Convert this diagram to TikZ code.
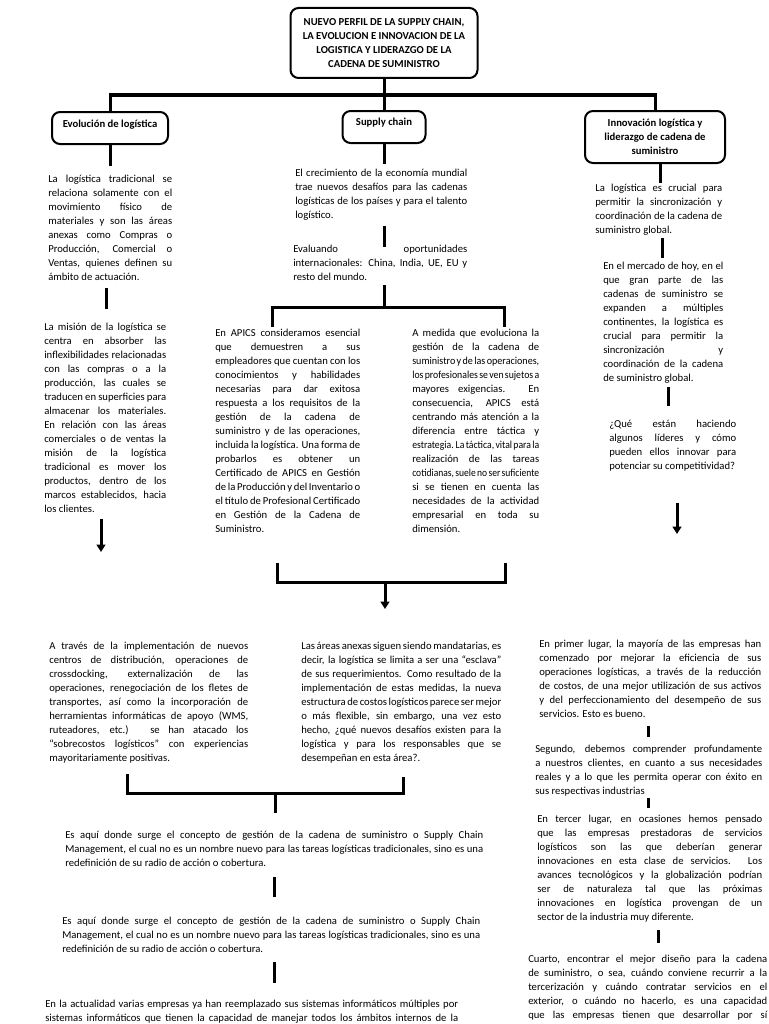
\documentclass[tikz,border=0pt]{standalone}
\usepackage{fontspec}
\usepackage{graphicx}
\setmainfont{Carlito}
\usetikzlibrary{arrows.meta}
\newdimen\pxu \pxu=0.75pt
\newdimen\colw
\newsavebox\lbox
% justified line: spaces may shrink; if still too long, the line is scaled down a little
\newcommand\jl[1]{\sbox\lbox{\spaceskip=.6\fontdimen2\font\relax #1}\ifdim\wd\lbox>\colw
  \hbox{\resizebox{\colw}{\height}{\usebox\lbox}}\else
  \hbox to\colw{\spaceskip=\fontdimen2\font plus 2\fontdimen3\font minus .4\fontdimen2\font\relax #1}\fi}
\newcommand\lastl[1]{\hbox{#1}}
\newcommand\tblock[2]{\colw=#1\pxu\vtop{#2}}
\begin{document}
\begin{tikzpicture}[x=0.75pt,y=-0.75pt,
  conn/.style={line width=2.25pt},
  arr/.style={line width=2.25pt,-{Triangle[width=6.5pt,length=5.5pt]}},
  tbox/.style={draw,line width=1.5pt,rounded corners=6pt,font=\fontsize{8}{10.5}\selectfont\bfseries,align=center,inner sep=0pt},
  para/.style={inner sep=0pt,anchor=north west,font=\fontsize{8}{10.5}\selectfont},
]
\fill[white] (0,0) rectangle (768,1024);
\useasboundingbox (0,0) rectangle (768,1024);

% ---------- top level ----------
\node[tbox, minimum width=187\pxu, minimum height=70\pxu] (title) at (384,43)
  {NUEVO PERFIL DE LA SUPPLY CHAIN,\\ LA EVOLUCION E INNOVACION DE LA\\ LOGISTICA Y LIDERAZGO DE LA\\ CADENA DE SUMINISTRO};
\node[tbox, minimum width=116\pxu, text height=11.6pt, text depth=12.4pt] (evo) at (110,128) {Evolución de logística};
\node[tbox, minimum width=83\pxu, text height=10.9pt, text depth=13.1pt] (sc) at (384,127) {Supply chain};
\node[tbox, minimum width=140\pxu, minimum height=52\pxu] (inn) at (655,137)
  {Innovación logística y\\ liderazgo de cadena de\\ suministro};

\coordinate (hubL) at (110,95);
\coordinate (hubR) at (655,95);
\draw[conn] (evo.north) -- (hubL) -- (hubR) -- (inn.north);
\draw[conn] (title.south) -- (sc.north);

% ---------- left column ----------
\node[para] (t1) at (48,175) {\tblock{124}{%
\jl{La logística tradicional se}
\jl{relaciona solamente con el}
\jl{movimiento físico de}
\jl{materiales y son las áreas}
\jl{anexas como Compras o}
\jl{Producción, Comercial o}
\jl{Ventas, quienes definen su}
\lastl{ámbito de actuación.}}};
\node[para] (t2) at (44,323) {\tblock{122}{%
\jl{La misión de la logística se}
\jl{centra en absorber las}
\jl{inflexibilidades relacionadas}
\jl{con las compras o a la}
\jl{producción, las cuales se}
\jl{traducen en superficies para}
\jl{almacenar los materiales.}
\jl{En relación con las áreas}
\jl{comerciales o de ventas la}
\jl{misión de la logística}
\jl{tradicional es mover los}
\jl{productos, dentro de los}
\jl{marcos establecidos, hacia}
\lastl{los clientes.}}};

\coordinate (l1) at (110,166);
\draw[conn] (evo.south) -- (l1);
\coordinate (l2a) at (106,288); \coordinate (l2b) at (106,309);
\draw[conn] (l2a) -- (l2b);
\coordinate (l3a) at (101,519); \coordinate (l3b) at (101,552);
\draw[arr] (l3a) -- (l3b);

% ---------- centre column ----------
\node[para] (c1) at (295,169) {\tblock{172}{%
\jl{El crecimiento de la economía mundial}
\jl{trae nuevos desafíos para las cadenas}
\jl{logísticas de los países y para el talento}
\lastl{logístico.}}};
\node[para] (c2) at (293,245) {\tblock{174}{%
\jl{Evaluando oportunidades}
\jl{internacionales: China, India, UE, EU y}
\lastl{resto del mundo.}}};
\node[para] (ap) at (215,329) {\tblock{145}{%
\jl{En APICS consideramos esencial}
\jl{que demuestren a sus}
\jl{empleadores que cuentan con los}
\jl{conocimientos y habilidades}
\jl{necesarias para dar exitosa}
\jl{respuesta a los requisitos de la}
\jl{gestión de la cadena de}
\jl{suministro y de las operaciones,}
\jl{incluida la logística. Una forma de}
\jl{probarlos es obtener un}
\jl{Certificado de APICS en Gestión}
\jl{de la Producción y del Inventario o}
\jl{el título de Profesional Certificado}
\jl{en Gestión de la Cadena de}
\lastl{Suministro.}}};
\node[para] (am) at (412,329) {\tblock{127}{%
\jl{A medida que evoluciona la}
\jl{gestión de la cadena de}
\jl{suministro y de las operaciones,}
\jl{los profesionales se ven sujetos a}
\jl{mayores exigencias. En}
\jl{consecuencia, APICS está}
\jl{centrando más atención a la}
\jl{diferencia entre táctica y}
\jl{estrategia. La táctica, vital para la}
\jl{realización de las tareas}
\jl{cotidianas, suele no ser suficiente}
\jl{si se tienen en cuenta las}
\jl{necesidades de la actividad}
\jl{empresarial en toda su}
\lastl{dimensión.}}};

\coordinate (s1) at (384,164);
\draw[conn] (sc.south) -- (s1);
\coordinate (s2a) at (384,226); \coordinate (s2b) at (384,247);
\draw[conn] (s2a) -- (s2b);
\coordinate (s3a) at (384,285); \coordinate (s3b) at (384,307);
\draw[conn] (s3a) -- (s3b);
\coordinate (s4a) at (272,327); \coordinate (s4b) at (504,327);
\draw[conn] (s4a) -- (272,307) -- (504,307) -- (s4b);
\coordinate (s5a) at (277,563); \coordinate (s5b) at (505,563);
\draw[conn] (s5a) -- (277,582) -- (505,582) -- (s5b);
\coordinate (s6a) at (385,582); \coordinate (s6b) at (385,609);
\draw[arr] (s6a) -- (s6b);

% ---------- right column ----------
\node[para] (i1) at (595,184) {\tblock{127}{%
\jl{La logística es crucial para}
\jl{permitir la sincronización y}
\jl{coordinación de la cadena de}
\lastl{suministro global.}}};
\node[para] (i2) at (603,262) {\tblock{120}{%
\jl{En el mercado de hoy, en el}
\jl{que gran parte de las}
\jl{cadenas de suministro se}
\jl{expanden a múltiples}
\jl{continentes, la logística es}
\jl{crucial para permitir la}
\jl{sincronización y}
\jl{coordinación de la cadena}
\lastl{de suministro global.}}};
\node[para] (i3) at (609,420) {\tblock{127}{%
\jl{¿Qué están haciendo}
\jl{algunos líderes y cómo}
\jl{pueden ellos innovar para}
\lastl{potenciar su competitividad?}}};

\coordinate (r1) at (660,183);
\draw[conn] (inn.south -| r1) -- (r1);
\coordinate (r2a) at (662,238); \coordinate (r2b) at (662,258);
\draw[conn] (r2a) -- (r2b);
\coordinate (r3a) at (668,387); \coordinate (r3b) at (668,406);
\draw[conn] (r3a) -- (r3b);
\coordinate (r4a) at (677,503); \coordinate (r4b) at (677,534);
\draw[arr] (r4a) -- (r4b);

% ---------- lower part ----------
\node[para] (b1) at (49,642) {\tblock{199}{%
\jl{A través de la implementación de nuevos}
\jl{centros de distribución, operaciones de}
\jl{crossdocking, externalización de las}
\jl{operaciones, renegociación de los fletes de}
\jl{transportes, así como la incorporación de}
\jl{herramientas informáticas de apoyo (WMS,}
\jl{ruteadores, etc.) se han atacado los}
\jl{“sobrecostos logísticos” con experiencias}
\lastl{mayoritariamente positivas.}}};
\node[para] (b2) at (301,642) {\tblock{200}{%
\jl{Las áreas anexas siguen siendo mandatarias, es}
\jl{decir, la logística se limita a ser una “esclava”}
\jl{de sus requerimientos. Como resultado de la}
\jl{implementación de estas medidas, la nueva}
\jl{estructura de costos logísticos parece ser mejor}
\jl{o más flexible, sin embargo, una vez esto}
\jl{hecho, ¿qué nuevos desafíos existen para la}
\jl{logística y para los responsables que se}
\lastl{desempeñan en esta área?.}}};
\node[para] (e1) at (65,831) {\tblock{418}{%
\jl{Es aquí donde surge el concepto de gestión de la cadena de suministro o Supply Chain}
\jl{Management, el cual no es un nombre nuevo para las tareas logísticas tradicionales, sino es una}
\lastl{redefinición de su radio de acción o cobertura.}}};
\node[para] (e2) at (62,917) {\tblock{418}{%
\jl{Es aquí donde surge el concepto de gestión de la cadena de suministro o Supply Chain}
\jl{Management, el cual no es un nombre nuevo para las tareas logísticas tradicionales, sino es una}
\lastl{redefinición de su radio de acción o cobertura.}}};
\node[para] (e3) at (45,1000) {\tblock{413}{%
\jl{En la actualidad varias empresas ya han reemplazado sus sistemas informáticos múltiples por}
\jl{sistemas informáticos que tienen la capacidad de manejar todos los ámbitos internos de la}}};

\coordinate (b3a) at (127,774); \coordinate (b3b) at (403,777);
\draw[conn] (b3a) -- (127,793) -- (403,793) -- (b3b);
\coordinate (b4a) at (275,793); \coordinate (b4b) at (275,813);
\draw[conn] (b4a) -- (b4b);
\coordinate (b5a) at (274,877); \coordinate (b5b) at (274,897);
\draw[conn] (b5a) -- (b5b);
\coordinate (b6a) at (274,962); \coordinate (b6b) at (274,983);
\draw[conn] (b6a) -- (b6b);

% ---------- lower right ----------
\node[para] (p1) at (539,640) {\tblock{222}{%
\jl{En primer lugar, la mayoría de las empresas han}
\jl{comenzado por mejorar la eficiencia de sus}
\jl{operaciones logísticas, a través de la reducción}
\jl{de costos, de una mejor utilización de sus activos}
\jl{y del perfeccionamiento del desempeño de sus}
\lastl{servicios. Esto es bueno.}}};
\node[para] (p2) at (535,745) {\tblock{227}{%
\jl{Segundo, debemos comprender profundamente}
\jl{a nuestros clientes, en cuanto a sus necesidades}
\jl{reales y a lo que les permita operar con éxito en}
\lastl{sus respectivas industrias}}};
\node[para] (p3) at (537,815) {\tblock{225}{%
\jl{En tercer lugar, en ocasiones hemos pensado}
\jl{que las empresas prestadoras de servicios}
\jl{logísticos son las que deberían generar}
\jl{innovaciones en esta clase de servicios. Los}
\jl{avances tecnológicos y la globalización podrían}
\jl{ser de naturaleza tal que las próximas}
\jl{innovaciones en logística provengan de un}
\lastl{sector de la industria muy diferente.}}};
\node[para] (p4) at (528,955) {\tblock{239}{%
\jl{Cuarto, encontrar el mejor diseño para la cadena}
\jl{de suministro, o sea, cuándo conviene recurrir a la}
\jl{tercerización y cuándo contratar servicios en el}
\jl{exterior, o cuándo no hacerlo, es una capacidad}
\jl{que las empresas tienen que desarrollar por sí}}};

\coordinate (q1a) at (648,726); \coordinate (q1b) at (648,737);
\draw[conn] (q1a) -- (q1b);
\coordinate (q2a) at (648,798); \coordinate (q2b) at (648,808);
\draw[conn] (q2a) -- (q2b);
\coordinate (q3a) at (658,930); \coordinate (q3b) at (658,943);
\draw[conn] (q3a) -- (q3b);
\end{tikzpicture}
\end{document}
